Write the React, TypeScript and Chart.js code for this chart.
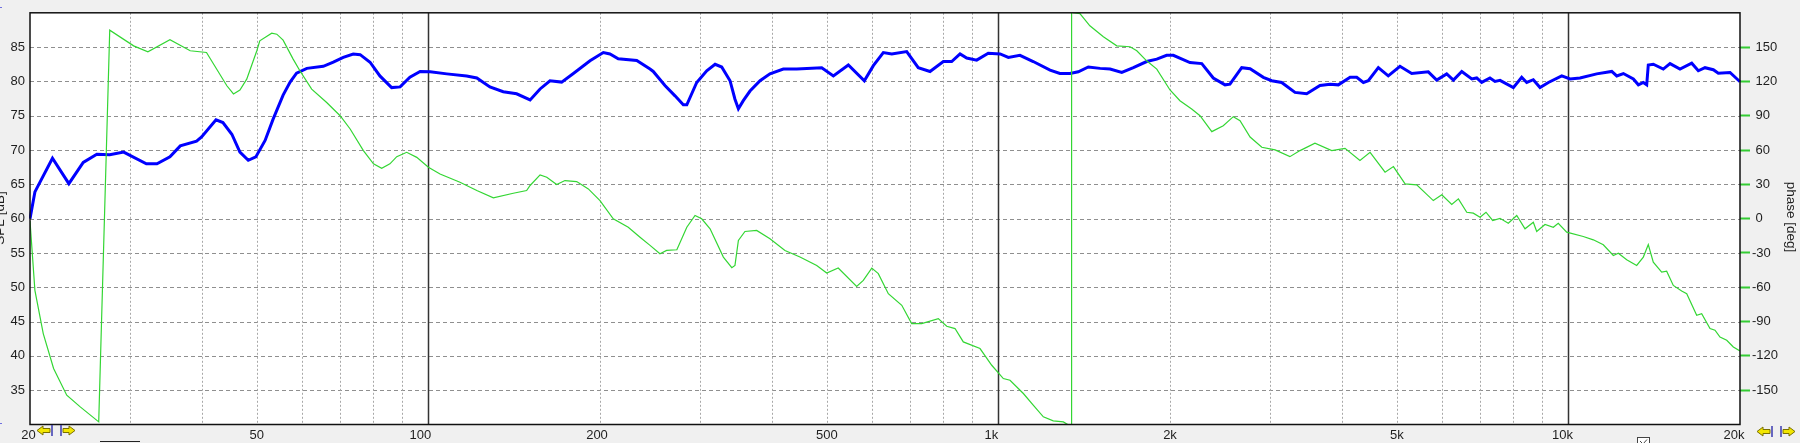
import React, { useEffect, useRef } from 'react';
import { Chart, registerables } from 'chart.js';

Chart.register(...registerables);

// ---- data ----
const magFreq = [20, 20.4, 21.9, 23.4, 24.8, 26.2, 27.6, 29.2, 32.0, 33.4, 35.2, 36.7, 39.2, 40.0, 42.4, 43.6, 45.2, 46.7, 48.3, 49.8, 51.7, 53.4, 55.6, 57.2, 58.7, 61.2, 65.4, 68.1, 70.9, 73.8, 75.9, 79.0, 82.2, 86.2, 89.2, 92.8, 96.7, 100.7, 107.7, 116.7, 121.6, 128.2, 135.3, 142.8, 150.8, 157, 163.4, 171.3, 179.6, 192.1, 202.7, 208.2, 215.3, 232, 244.8, 248, 260, 270.8, 280, 284, 295.6, 307.8, 318.4, 327, 338.2, 345, 349.8, 356.8, 366.6, 381.8, 397.4, 419.4, 442.8, 489.8, 513.4, 545.4, 581.8, 603.4, 628.2, 650, 690.4, 723.4, 758.6, 800.6, 828, 856.4, 879.8, 916, 959.8, 1007, 1041, 1091, 1151, 1232, 1282, 1335, 1381, 1438, 1508, 1570, 1646, 1725, 1820, 1896, 1973, 2027, 2168, 2274, 2382, 2498, 2548, 2672, 2764, 2916, 3016, 3140, 3314, 3474, 3666, 3818, 3948, 4140, 4252, 4368, 4456, 4640, 4830, 5064, 5310, 5678, 5874, 6116, 6284, 6500, 6768, 6904, 7044, 7284, 7434, 7586, 8006, 8280, 8450, 8678, 8916, 9222, 9734, 10066, 10480, 11210, 11914, 12156, 12486, 13000, 13266, 13534, 13720, 13808, 14090, 14670, 15076, 15696, 16456, 16900, 17364, 17958, 18322, 19210, 20000];
const magDb = [60.0, 63.9, 68.8, 65.1, 68.2, 69.4, 69.3, 69.7, 68.0, 68.0, 69.0, 70.6, 71.3, 71.9, 74.4, 74.0, 72.3, 69.7, 68.5, 69.0, 71.4, 74.5, 78.0, 79.9, 81.2, 81.9, 82.2, 82.8, 83.5, 84.0, 83.9, 82.8, 80.8, 79.1, 79.2, 80.6, 81.45, 81.4, 81.1, 80.8, 80.5, 79.2, 78.5, 78.2, 77.3, 78.9, 80.1, 79.9, 81.15, 83.0, 84.2, 84.0, 83.3, 83.05, 81.8, 81.45, 79.4, 77.9, 76.6, 76.6, 79.85, 81.55, 82.5, 82.1, 80.1, 77.4, 76.0, 77.2, 78.6, 80.1, 81.1, 81.8, 81.8, 82.0, 80.8, 82.4, 80.1, 82.3, 84.2, 84.0, 84.35, 82.0, 81.45, 82.9, 82.9, 84.0, 83.4, 83.1, 84.1, 84.0, 83.5, 83.8, 82.9, 81.65, 81.15, 81.15, 81.4, 82.1, 81.9, 81.8, 81.3, 82.0, 82.9, 83.25, 83.8, 83.8, 82.75, 82.6, 80.5, 79.5, 79.6, 82.0, 81.85, 80.6, 80.1, 79.85, 78.4, 78.2, 79.4, 79.6, 79.5, 80.6, 80.6, 79.85, 80.1, 82.0, 80.8, 82.2, 81.15, 81.4, 80.2, 81.1, 80.2, 81.45, 80.35, 80.5, 79.85, 80.5, 80.0, 80.15, 79.1, 80.6, 79.85, 80.25, 79.1, 79.85, 80.8, 80.35, 80.5, 81.1, 81.45, 80.8, 81.15, 80.35, 79.5, 79.85, 79.5, 82.4, 82.5, 81.8, 82.6, 81.8, 82.65, 81.55, 82.0, 81.7, 81.2, 81.3, 79.95];

const phaseFreq = [20, 20.4, 21.1, 22.0, 23.2, 24.5, 26.4, 27.6, 30.4, 32.2, 35.2, 38.2, 40.8, 44.3, 45.5, 46.7, 48.0, 50.0, 50.6, 53.1, 54.2, 55.6, 57.9, 59.5, 62.4, 66.3, 70.0, 72.9, 76.9, 80.1, 82.8, 85.6, 88.0, 91.6, 95.4, 100, 104.8, 113.6, 121.6, 130, 140.9, 148.7, 150.8, 157, 161.3, 167.9, 173.6, 182, 190.8, 200, 211, 224.2, 235.1, 244.8, 254.8, 261.8, 272.8, 284, 293.6, 301.6, 312, 329.2, 340.6, 345, 349.8, 359.2, 376.6, 397.4, 422.2, 448.6, 480, 499.8, 523.6, 564, 579.4, 599.6, 615.6, 641, 676.8, 704.4, 733.4, 784.4, 811.6, 839.2, 867.8, 928.4, 973.4, 1020, 1048, 1106, 1151, 1199, 1248, 1300, 1343, 1344, 1353, 1390, 1447, 1528, 1613, 1702, 1749, 1820, 1896, 2000, 2082, 2183, 2258, 2368, 2480, 2583, 2654, 2764, 2898, 3058, 3246, 3382, 3592, 3844, 4056, 4308, 4488, 4768, 4932, 5170, 5418, 5794, 5996, 6242, 6412, 6632, 6810, 6998, 7168, 7364, 7586, 7844, 8116, 8392, 8678, 8798, 9098, 9408, 9598, 9932, 10618, 11058, 11514, 11990, 12234, 12654, 13176, 13534, 13808, 14090, 14576, 14872, 15276, 15802, 16128, 16790, 17132, 17718, 18078, 18448, 18956, 19468, 20000];
const phaseDeg = [-2, -62.7, -100.5, -131, -154.4, -164.6, -177.7, 164.8, 151.1, 145.9, 156.4, 146.8, 145.3, 116.2, 109, 112.5, 122, 146.8, 155.5, 162.2, 161.3, 156.1, 139.5, 129.3, 113.3, 101.6, 90, 78.4, 59.5, 47.9, 44.0, 47.9, 54.2, 58.0, 53.6, 44.9, 39.1, 31.8, 24.6, 18.2, 22.2, 24.6, 29, 38.3, 36.2, 29.8, 33.3, 32.4, 26, 15.8, -0.1, -7.5, -16.2, -23.4, -30.7, -27.8, -27.2, -7.5, 2.8, -0.1, -8.9, -33.6, -42.9, -40.9, -19, -11.2, -10.3, -17.6, -27.8, -33.6, -40.9, -47.6, -43.2, -59.2, -54, -43.2, -48.1, -65.6, -75.8, -91.8, -91.8, -87.4, -94.1, -96.1, -107.8, -113.6, -128.2, -139.8, -141.3, -152.9, -163.1, -173.3, -176.8, -177.7, -182, 182, 180, 179.3, 168.6, 159, 151.1, 150.3, 146.8, 138, 130.8, 112.5, 103.1, 95.9, 90, 76.1, 81.3, 89.2, 85.7, 71.4, 62.4, 60.1, 54.2, 59.5, 65.9, 59.5, 61.5, 50.8, 58, 40.6, 45.5, 30.4, 29.5, 15.8, 20.8, 12.4, 17.3, 5.6, 4.8, 1.3, 5.6, -1.6, 0.3, -4, 2.8, -8.9, -3.1, -11.2, -5.1, -7.5, -4, -11.8, -15.6, -18.5, -22.8, -32.2, -30.2, -35.9, -40.9, -33.6, -22.6, -38, -46.7, -45.9, -58.4, -63.3, -65.6, -84.5, -83.1, -96.1, -97.6, -103.5, -106.3, -112.2, -115.7];

const freqTicks = [20, 50, 100, 200, 500, 1000, 2000, 5000, 10000, 20000];
const freqTickLabels = ['20', '50', '100', '200', '500', '1k', '2k', '5k', '10k', '20k'];
const majorFreqLines = [100, 1000, 10000];
const minorFreqLines = [30, 40, 50, 60, 70, 80, 90, 200, 300, 400, 500, 600, 700, 800, 900, 2000, 3000, 4000, 5000, 6000, 7000, 8000, 9000];
const splGrid = [35, 40, 45, 50, 55, 60, 65, 70, 75, 80, 85];

const FONT = '"Liberation Sans", Arial, sans-serif';
const TEXT = '#1e1e1e';

function drawArrow(ctx: CanvasRenderingContext2D, x0: number, x1: number, yc: number, dir: number) {
  // dir -1: tip at x0 ; dir 1: tip at x1
  const h = 4.5, bh = 2;
  const headLen = 6;
  ctx.beginPath();
  if (dir < 0) {
    ctx.moveTo(x0, yc);
    ctx.lineTo(x0 + headLen, yc - h);
    ctx.lineTo(x0 + headLen, yc - bh);
    ctx.lineTo(x1, yc - bh);
    ctx.lineTo(x1, yc + bh);
    ctx.lineTo(x0 + headLen, yc + bh);
    ctx.lineTo(x0 + headLen, yc + h);
  } else {
    ctx.moveTo(x1, yc);
    ctx.lineTo(x1 - headLen, yc - h);
    ctx.lineTo(x1 - headLen, yc - bh);
    ctx.lineTo(x0, yc - bh);
    ctx.lineTo(x0, yc + bh);
    ctx.lineTo(x1 - headLen, yc + bh);
    ctx.lineTo(x1 - headLen, yc + h);
  }
  ctx.closePath();
  ctx.fillStyle = '#f2e600';
  ctx.fill();
  ctx.strokeStyle = '#7a7000';
  ctx.lineWidth = 1;
  ctx.stroke();
}

function drawNav(ctx: CanvasRenderingContext2D, x: number, yc: number) {
  drawArrow(ctx, x, x + 13, yc, -1);
  ctx.strokeStyle = '#3a3ab0';
  ctx.lineWidth = 1.5;
  ctx.beginPath();
  ctx.moveTo(x + 15, yc - 5.5); ctx.lineTo(x + 15, yc + 5.5);
  ctx.moveTo(x + 24, yc - 5.5); ctx.lineTo(x + 24, yc + 5.5);
  ctx.stroke();
  drawArrow(ctx, x + 26, x + 38, yc, 1);
}

const decorPlugin = {
  id: 'decor',
  beforeDraw(chart: any) {
    const { ctx, chartArea } = chart;
    ctx.save();
    ctx.fillStyle = '#ffffff';
    ctx.fillRect(chartArea.left, chartArea.top, chartArea.right - chartArea.left, chartArea.bottom - chartArea.top);
    ctx.restore();
  },
  beforeDatasetsDraw(chart: any) {
    const { ctx, chartArea, scales } = chart;
    const { left, right, top, bottom } = chartArea;
    const xs = scales.x;
    const ys = scales.y;
    ctx.save();
    // horizontal dashed grid
    ctx.lineWidth = 1;
    ctx.strokeStyle = '#8f8f8f';
    ctx.setLineDash([4, 3]);
    for (const v of splGrid) {
      const y = Math.round(ys.getPixelForValue(v)) + 0.5;
      ctx.beginPath();
      ctx.moveTo(left, y);
      ctx.lineTo(right, y);
      ctx.stroke();
    }
    // minor vertical dotted grid
    ctx.strokeStyle = '#a8a8a8';
    ctx.setLineDash([2, 2]);
    for (const f of minorFreqLines) {
      const x = Math.round(xs.getPixelForValue(f)) + 0.5;
      ctx.beginPath();
      ctx.moveTo(x, top);
      ctx.lineTo(x, bottom);
      ctx.stroke();
    }
    // major vertical solid lines
    ctx.setLineDash([]);
    ctx.strokeStyle = '#333333';
    ctx.lineWidth = 1.5;
    for (const f of majorFreqLines) {
      const x = Math.round(xs.getPixelForValue(f)) + 0.5;
      ctx.beginPath();
      ctx.moveTo(x, top);
      ctx.lineTo(x, bottom);
      ctx.stroke();
    }
    ctx.restore();
  },
  afterDraw(chart: any) {
    const { ctx, chartArea, scales } = chart;
    const { left, right, top, bottom } = chartArea;
    const xs = scales.x;
    ctx.save();
    // frame
    ctx.strokeStyle = '#111111';
    ctx.lineWidth = 1.5;
    ctx.strokeRect(left, top, right - left, bottom - top);

    // x tick labels
    const offsets: Record<string, number> = { '20': -1.5, '100': -8, '200': -3, '1k': -7, '10k': -6, '20k': -6 };
    ctx.font = `13px ${FONT}`;
    ctx.fillStyle = TEXT;
    ctx.textAlign = 'center';
    ctx.textBaseline = 'alphabetic';
    freqTicks.forEach((f, i) => {
      const lbl = freqTickLabels[i];
      const x = xs.getPixelForValue(f) + (offsets[lbl] || 0);
      ctx.fillText(lbl, x, 438.5);
    });

    // axis titles
    ctx.font = `13.5px ${FONT}`;
    ctx.save();
    ctx.translate(1787, 217);
    ctx.rotate(Math.PI / 2);
    ctx.textAlign = 'center';
    ctx.fillText('phase [deg]', 0, 0);
    ctx.restore();
    ctx.save();
    ctx.translate(3.5, 218);
    ctx.rotate(-Math.PI / 2);
    ctx.textAlign = 'center';
    ctx.fillText('SPL [dB]', 0, 0);
    ctx.restore();

    // navigation icons
    drawNav(ctx, 37, 430.5);
    drawNav(ctx, 1757, 431.5);

    // checkbox (partially visible)
    ctx.fillStyle = '#ffffff';
    ctx.fillRect(1637.5, 437.5, 12, 10);
    ctx.strokeStyle = '#444444';
    ctx.lineWidth = 1;
    ctx.strokeRect(1637.5, 437.5, 12, 10);
    ctx.beginPath();
    ctx.moveTo(1640, 441);
    ctx.lineTo(1643, 444);
    ctx.lineTo(1647, 439.5);
    ctx.stroke();

    // small button edge under the axis
    ctx.strokeStyle = '#222222';
    ctx.beginPath();
    ctx.moveTo(100, 441.5);
    ctx.lineTo(140, 441.5);
    ctx.stroke();

    // small blue markers at the left edge
    ctx.strokeStyle = '#7070e0';
    ctx.beginPath();
    ctx.moveTo(0, 7.5); ctx.lineTo(2, 7.5);
    ctx.moveTo(0, 423.5); ctx.lineTo(2, 423.5);
    ctx.stroke();
    ctx.restore();
  },
};

export default function App() {
  const canvasRef = useRef<HTMLCanvasElement | null>(null);

  useEffect(() => {
    document.body.style.margin = '0';
    document.body.style.background = '#f0f0f0';
    const canvas = canvasRef.current;
    if (!canvas) return;

    const chart = new Chart(canvas, {
      type: 'line',
      data: {
        datasets: [
          {
            label: 'phase',
            data: phaseFreq.map((f, i) => ({ x: f, y: phaseDeg[i] })),
            yAxisID: 'y2',
            borderColor: '#33d633',
            borderWidth: 1.2,
            pointRadius: 0,
            tension: 0,
            fill: false,
            clip: 0,
          },
          {
            label: 'SPL',
            data: magFreq.map((f, i) => ({ x: f, y: magDb[i] })),
            yAxisID: 'y',
            borderColor: '#0000ff',
            borderWidth: 3,
            pointRadius: 0,
            tension: 0,
            fill: false,
            clip: 1,
          },
        ],
      },
      options: {
        responsive: false,
        maintainAspectRatio: false,
        animation: false,
        devicePixelRatio: 1,
        layout: { padding: { top: 11.5, left: 0, right: 0, bottom: 0 } },
        plugins: {
          legend: { display: false },
          tooltip: { enabled: false },
        },
        scales: {
          x: {
            type: 'logarithmic',
            min: 20,
            max: 20000,
            grid: { display: false },
            border: { display: false },
            ticks: { display: false },
            afterFit: (scale: any) => { scale.height = 18.5; },
          },
          y: {
            position: 'left',
            min: 30,
            max: 90,
            grid: { display: false, drawTicks: false },
            border: { display: false },
            ticks: {
              stepSize: 5,
              padding: 5,
              color: TEXT,
              font: { family: FONT, size: 13 },
              callback: (v: any) => (v === 30 || v === 90 ? '' : String(v)),
            },
            afterFit: (scale: any) => { scale.width = 30; },
          },
          y2: {
            position: 'right',
            min: -180,
            max: 180,
            grid: {
              display: true,
              drawOnChartArea: false,
              drawTicks: true,
              tickLength: 10,
              tickWidth: 2,
              color: 'rgba(0,0,0,0)',
              tickColor: (ctx: any) => (Math.abs(ctx.tick?.value) === 180 ? 'rgba(0,0,0,0)' : '#33cc33'),
            },
            border: { display: false },
            ticks: {
              stepSize: 30,
              padding: 2,
              color: TEXT,
              font: { family: FONT, size: 13 },
              callback: (v: any) => (Math.abs(v) === 180 ? '' : v < 0 ? String(v) : ' ' + String(v)),
            },
            afterFit: (scale: any) => { scale.width = 60; },
          },
        },
      } as any,
      plugins: [decorPlugin],
    });

    return () => chart.destroy();
  }, []);

  return (
    <div style={{ position: 'fixed', left: 0, top: 0, width: 1800, height: 443, background: '#f0f0f0', overflow: 'hidden' }}>
      <canvas ref={canvasRef} width={1800} height={443} style={{ display: 'block', width: 1800, height: 443 }} />
    </div>
  );
}
